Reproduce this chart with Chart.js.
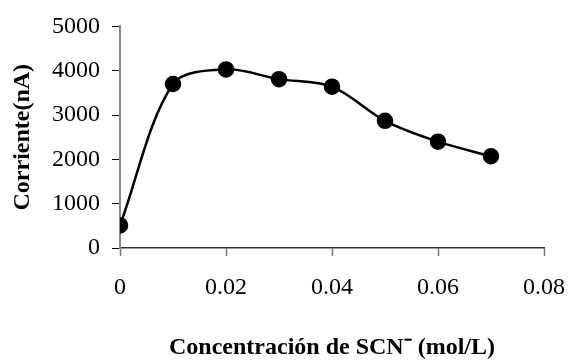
<!DOCTYPE html>
<html>
<head>
<meta charset="utf-8">
<script src="https://cdn.jsdelivr.net/npm/chart.js@4"></script>
<style>
  html, body { margin: 0; padding: 0; background: #fff; }
  #wrap { width: 568px; height: 360px; }
</style>
</head>
<body>
<div id="wrap"><canvas id="corrienteChart" width="568" height="360"></canvas></div>
<script>
const concentracion = [0, 0.01, 0.02, 0.03, 0.04, 0.05, 0.06, 0.07];
const corriente = [510, 3700, 4030, 3810, 3640, 2870, 2400, 2070];
const xTicks = [0, 0.02, 0.04, 0.06, 0.08];
const yTicks = [0, 1000, 2000, 3000, 4000, 5000];

const serif = "'Liberation Serif', 'Times New Roman', serif";

const ctx = document.getElementById("corrienteChart").getContext("2d");

new Chart(ctx, {
    type: "scatter",
    data: {
        datasets: [{
            data: concentracion.map((c, i) => ({ x: c, y: corriente[i] })),
            showLine: true,
            borderColor: "#000",
            borderWidth: 2.5,
            tension: 0.32,
            pointRadius: 7,
            pointBackgroundColor: "#000",
            pointBorderColor: "#000",
        }]
    },
    options: {
        responsive: false,
        animation: false,
        layout: { padding: { top: 23, right: 24, left: 0, bottom: 0 } },
        plugins: {
            legend: { display: false },
            tooltip: { enabled: false },
        },
        scales: {
            x: {
                type: "linear",
                min: 0,
                max: 0.08,
                afterBuildTicks: (scale) => { scale.ticks = xTicks.map(v => ({ value: v })); },
                afterFit: (scale) => {
                    scale.height = 112;
                    // let the last label hang past the plot edge
                    scale.paddingLeft = 0;
                    scale.paddingRight = 0;
                },
                ticks: {
                    color: "#000",
                    padding: 17,
                    font: { family: serif, size: 24 },
                    callback: (v) => String(v),
                },
                grid: {
                    drawOnChartArea: false,
                    drawTicks: true,
                    tickLength: 8,
                    tickColor: "#777",
                    tickWidth: 1.5,
                },
                border: { color: "#333", width: 1.5 },
                title: {
                    display: true,
                    text: "Concentración de SCN\u207B (mol/L)",
                    color: "#000",
                    font: { family: serif, size: 24, weight: "bold", lineHeight: 1 },
                    padding: { top: -5, bottom: 0 },
                },
            },
            y: {
                min: 0,
                max: 5000,
                afterBuildTicks: (scale) => { scale.ticks = yTicks.map(v => ({ value: v })); },
                afterFit: (scale) => { scale.width = 120; },
                ticks: {
                    color: "#000",
                    padding: 12,
                    font: { family: serif, size: 24 },
                    callback: (v) => String(v),
                },
                grid: {
                    drawOnChartArea: false,
                    drawTicks: true,
                    tickLength: 8,
                    tickColor: "#000",
                    tickWidth: 1,
                },
                border: { color: "#888", width: 2 },
                title: {
                    display: true,
                    text: "Corriente(nA)",
                    color: "#000",
                    font: { family: serif, size: 24, weight: "bold" },
                    padding: { top: 8, bottom: 0 },
                },
            },
        },
    },
});
</script>
</body>
</html>
